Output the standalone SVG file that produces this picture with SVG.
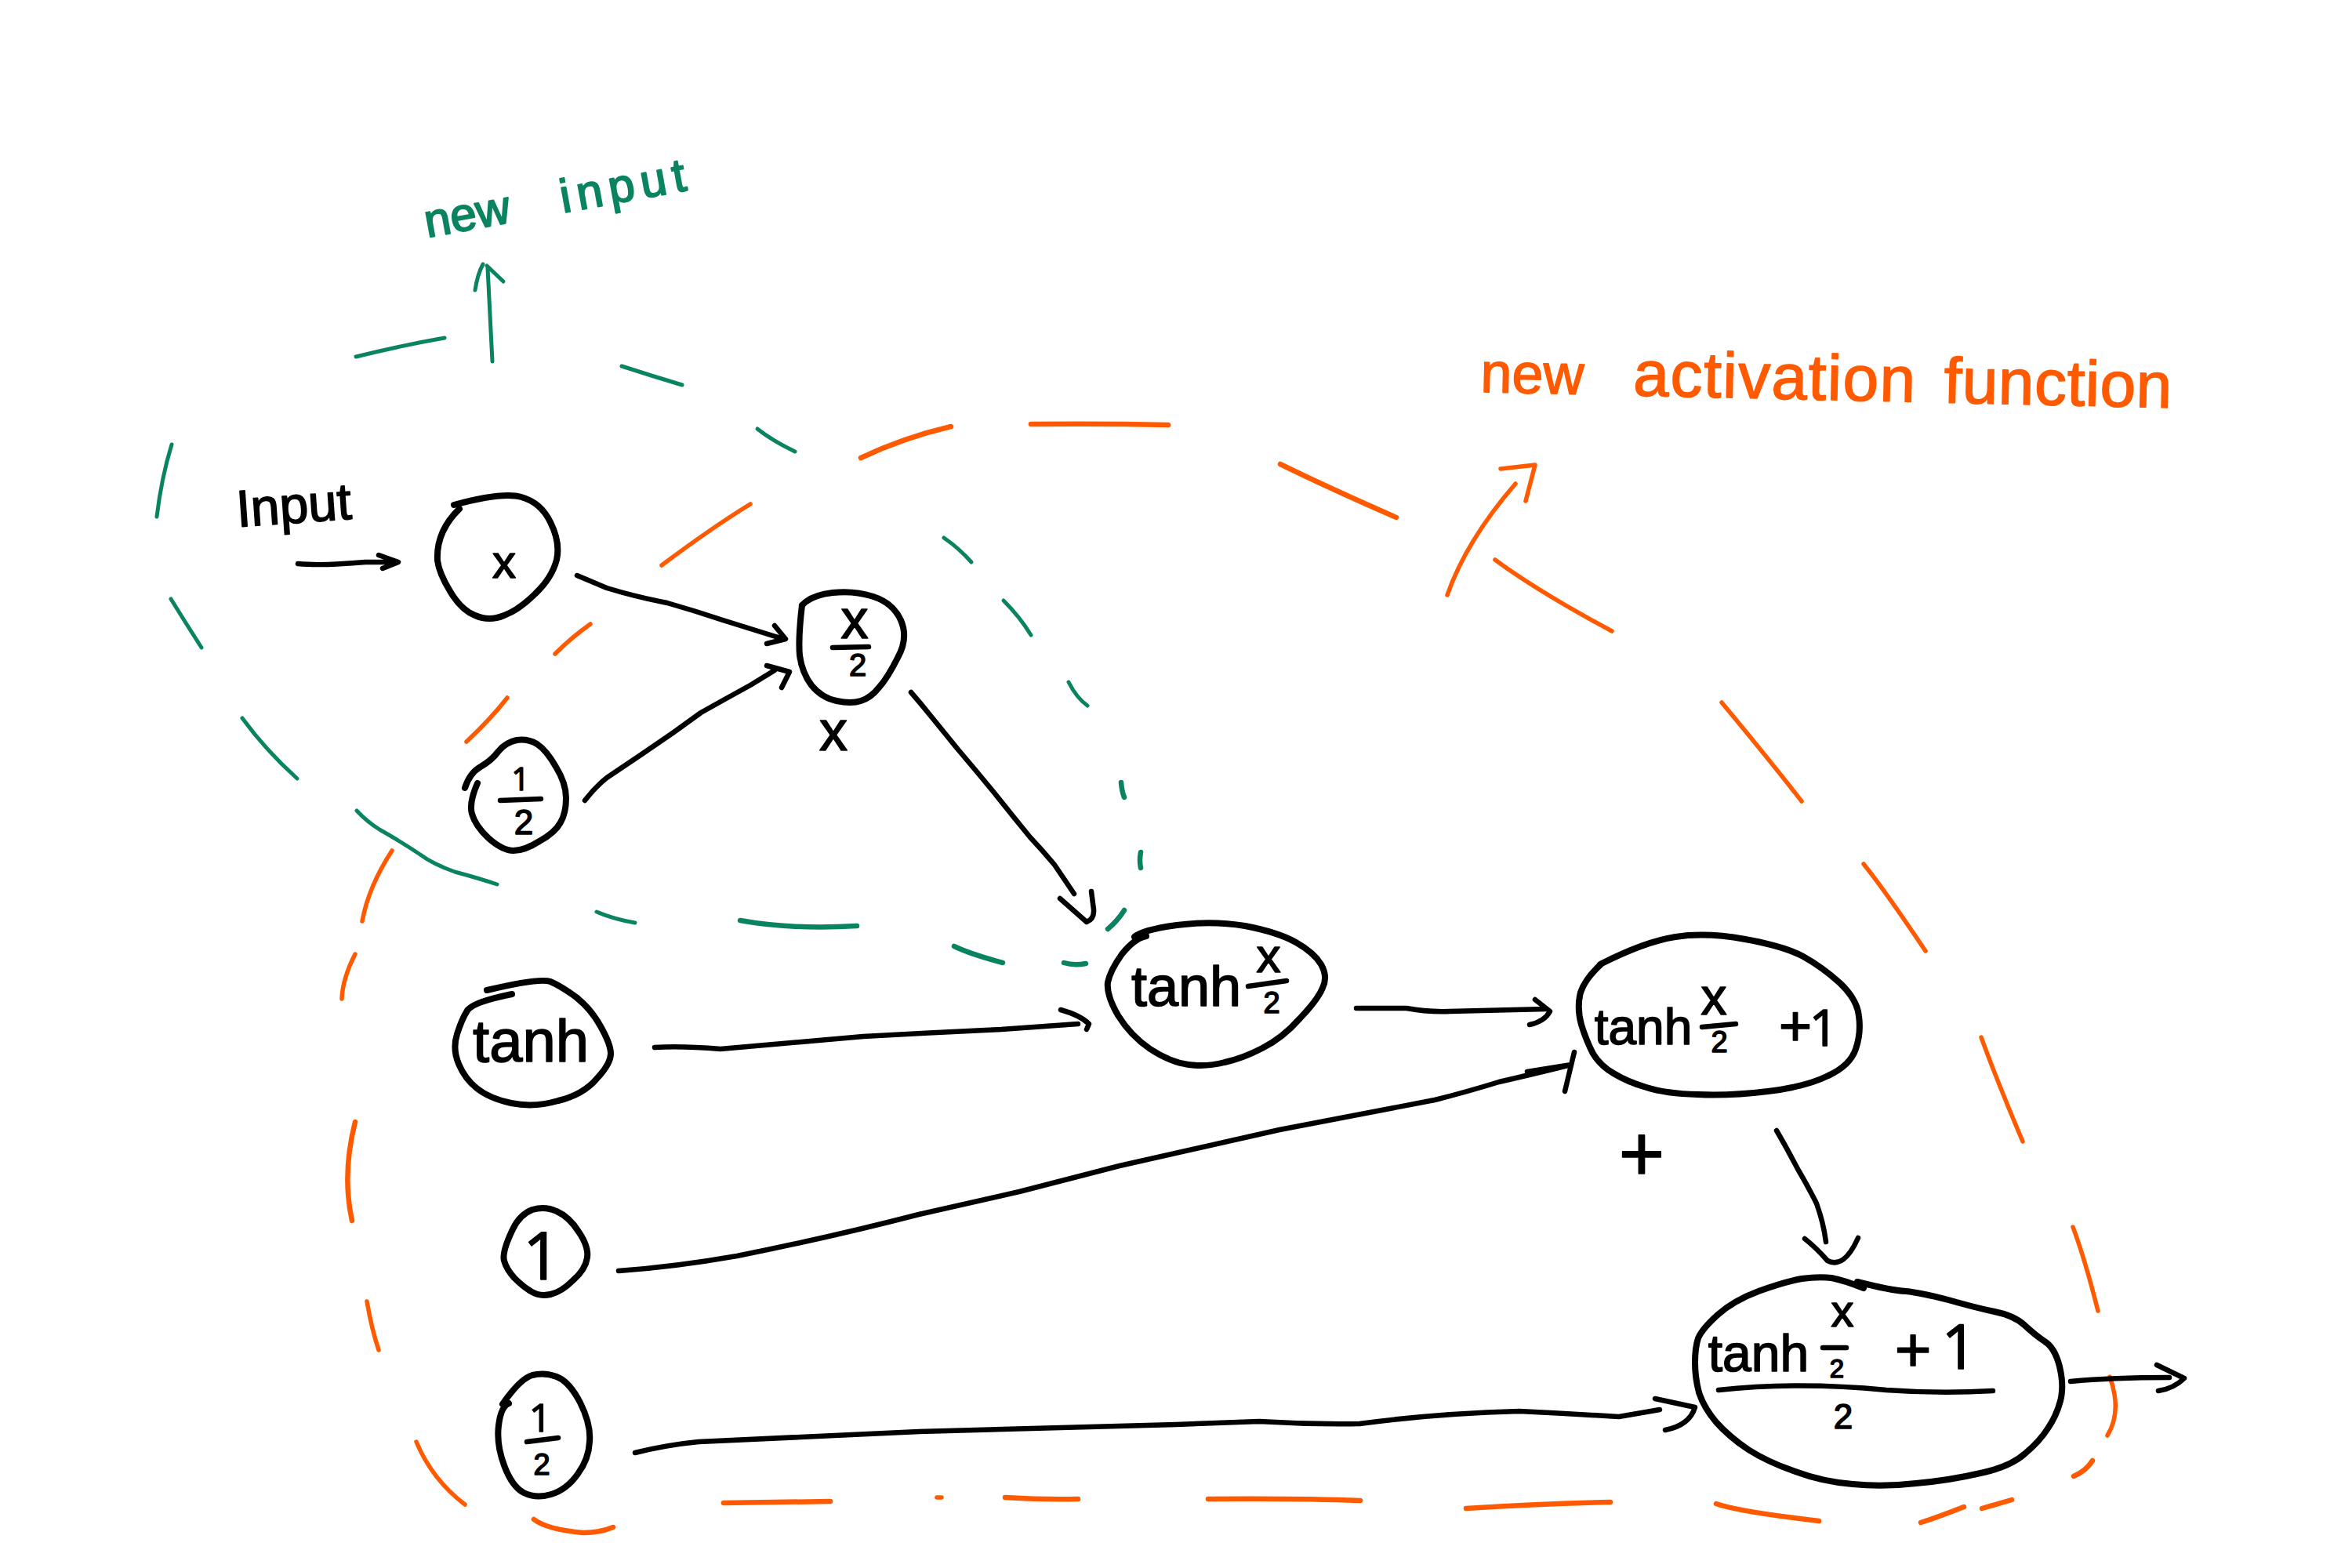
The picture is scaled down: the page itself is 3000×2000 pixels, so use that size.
<svg xmlns="http://www.w3.org/2000/svg" width="3000" height="2000" viewBox="0 0 3000 2000">
<style>
.k{fill:none;stroke:#000;stroke-linecap:round;stroke-linejoin:round}
.n{stroke-width:8}
.c{stroke-width:6.5}
.b{stroke-width:6.5}
.g{fill:none;stroke:#0a8460;stroke-width:5;stroke-linecap:round;stroke-linejoin:round}
.o{fill:none;stroke:#ff5a00;stroke-width:5.5;stroke-linecap:round;stroke-linejoin:round}
text{font-family:"Liberation Sans",Arial,sans-serif;fill:#000;stroke:#000;stroke-width:1.6;stroke-linejoin:round;text-anchor:middle}
.d{font-family:"Open Sans","Liberation Sans",sans-serif}
</style>
<rect width="3000" height="2000" fill="#fff"/>
<g id="boundary-green" class="g">
<path d="M454 455Q515 440 567 431"/>
<path d="M793 467Q830 479 870 491"/>
<path d="M966 547Q985 562 1014 576"/>
<path d="M1204 686Q1223 699 1239 717"/>
<path d="M1280 766Q1301 787 1315 810"/>
<path d="M1363 870Q1373 890 1387 900"/>
<path d="M1430 998Q1431 1010 1434 1017" stroke-width="6.5"/>
<path d="M1455 1087Q1453 1097 1455 1107" stroke-width="6.5"/>
<path d="M1434 1161Q1426 1174 1413 1185" stroke-width="6.5"/>
<path d="M1357 1228Q1370 1232 1385 1229" stroke-width="6.5"/>
<path d="M1217 1207Q1238 1217 1279 1228" stroke-width="6.5"/>
<path d="M944 1174Q1010 1186 1093 1181" stroke-width="6.5"/>
<path d="M761 1163Q782 1172 810 1177"/>
<path d="M455 1034Q468 1048 484 1058Q514 1075 536 1090Q552 1102 580 1112Q610 1120 634 1128"/>
<path d="M309 916Q339 957 379 993"/>
<path d="M218 764Q237 795 257 826"/>
<path d="M219 567Q206 609 200 659"/>
</g>
<g id="boundary-orange" class="o">
<path d="M1098 584Q1153 558 1213 544" stroke-width="6.5"/>
<path d="M1315 541Q1406 540 1490 542" stroke-width="6.5"/>
<path d="M1633 592Q1692 621 1781 660" stroke-width="6.5"/>
<path d="M1907 714Q1961 754 2056 805"/>
<path d="M2196 896Q2256 968 2298 1022"/>
<path d="M2377 1102Q2403 1134 2456 1213"/>
<path d="M2527 1323Q2547 1378 2580 1456"/>
<path d="M2644 1565Q2659 1605 2676 1672"/>
<path d="M2691 1756Q2707 1800 2688 1831"/>
<path d="M2669 1863Q2661 1876 2645 1883" stroke-width="6.5"/>
<path d="M2566 1913L2528 1924" stroke-width="6.5"/>
<path d="M2505 1922Q2472 1935 2450 1942" stroke-width="6.5"/>
<path d="M2189 1918Q2217 1928 2320 1940" stroke-width="6.5"/>
<path d="M1870 1924Q1963 1918 2054 1916" stroke-width="6.5"/>
<path d="M1541 1912Q1657 1911 1735 1914" stroke-width="6.5"/>
<path d="M1282 1910Q1330 1913 1375 1912" stroke-width="6.5"/>
<path d="M1195 1910L1201 1910"/>
<path d="M923 1917L1059 1915" stroke-width="6.5"/>
<path d="M681 1938Q698 1951 744 1955Q765 1955 782 1948" stroke-width="6.5"/>
<path d="M531 1839Q551 1887 593 1919"/>
<path d="M468 1660Q474 1695 483 1722"/>
<path d="M453 1431Q436 1498 449 1557" stroke-width="6.5"/>
<path d="M453 1217Q437 1248 436 1274"/>
<path d="M500 1085Q470 1131 462 1175"/>
<path d="M595 946Q627 916 647 890"/>
<path d="M708 834Q729 813 753 796"/>
<path d="M844 721Q908 673 957 643"/>
</g>
<g id="connectors">
<g class="k c">
<path d="M380 719Q410 722 466 717L504 717M483 708L508 717L488 725"/>
<path d="M736 734Q755 742 774 750Q810 761 851 769Q886 779 922 791L999 815M988 798L1002 815L978 821"/>
<path d="M746 1021Q760 1003 774 992Q816 964 858 935Q876 922 894 909Q926 891 957 874L988 855M978 849L1007 857L997 877"/>
<path d="M1162 883Q1175 898 1187 913Q1205 935 1222 956Q1245 983 1268 1011Q1291 1040 1314 1068Q1330 1085 1345 1103L1370 1140M1352 1146L1386 1176Q1396 1172 1395 1160L1392 1137"/>
<path d="M835 1336Q870 1334 919 1338Q1010 1330 1101 1322Q1190 1317 1277 1313L1375 1306M1353 1288Q1378 1295 1389 1306L1386 1313"/>
<path d="M1730 1286L1794 1286Q1820 1291 1849 1290L1972 1287M1958 1275L1977 1290Q1970 1303 1951 1307"/>
<path d="M789 1621Q860 1616 940 1602Q1060 1578 1172 1549L1300 1520L1428 1487L1632 1441L1830 1403Q1870 1393 1912 1380Q1960 1369 2004 1358M1948 1367L2004 1358M2008 1342L1996 1392"/>
<path d="M2266 1442Q2280 1466 2293 1491Q2306 1513 2317 1535Q2326 1560 2329 1584M2302 1580Q2316 1591 2331 1608Q2352 1619 2370 1579"/>
<path d="M810 1853Q850 1843 891 1839L1172 1826L1500 1817L1606 1813Q1670 1817 1734 1816Q1830 1803 1938 1800Q2000 1803 2065 1807L2117 1798M2111 1784L2162 1795Q2155 1818 2124 1824"/>
<path d="M2641 1762Q2694 1757 2767 1757M2751 1741L2786 1758Q2773 1771 2753 1774"/>
</g>
<path class="g" d="M628 461Q625 400 622 342M606 370Q609 350 616 337M621 339L642 359" stroke-width="6.5"/>
<path class="o" d="M1846 759Q1870 690 1933 617M1914 598L1958 593L1946 639" stroke-width="7"/>
</g>
<g id="node-x">
<path class="k n" d="M579 644Q641 627 665 634Q690 641 702 666Q715 692 710 714Q704 737 683 757Q662 778 643 785Q624 793 606 785Q588 778 574 754Q560 731 558 715Q556 678 586 649"/>
<text x="643" y="737" font-size="60">x</text>
</g>
<g id="node-half-1">
<path class="k n" d="M593 1005Q599 986 613 978Q627 970 636 958Q645 947 659 944Q673 942 685 949Q697 957 709 978Q722 999 722 1018Q722 1037 715 1049Q708 1062 688 1073Q669 1085 655 1085Q641 1085 623 1069Q606 1053 602 1038Q598 1024 609 999"/>
<path class="k b" d="M638 1021L690 1019"/>
<text class="d" x="664" y="1008" font-size="40">1</text>
<text x="668" y="1064" font-size="44">2</text>
</g>
<g id="node-x-over-2">
<path class="k n" d="M1023 772Q1035 759 1062 756Q1090 753 1114 761Q1139 769 1149 791Q1159 814 1145 839Q1132 865 1121 877Q1111 890 1098 894Q1086 898 1067 894Q1048 890 1035 874Q1023 858 1020 836Q1018 814 1023 772"/>
<text x="1090" y="814" font-size="70">x</text>
<path class="k b" d="M1062 826L1108 825"/>
<text x="1094" y="862" font-size="40">2</text>
</g>
<g id="node-tanh">
<path class="k n" d="M621 1263Q688 1247 702 1252Q716 1258 735 1272Q754 1287 766 1309Q779 1332 779 1344Q779 1357 761 1376Q744 1396 712 1404Q681 1413 652 1407Q624 1401 608 1388Q593 1376 585 1357Q577 1338 583 1319Q589 1300 596 1289Q603 1278 653 1268"/>
<text x="677" y="1354" font-size="76">tanh</text>
</g>
<g id="node-1">
<path class="k n" d="M654 1568Q663 1549 679 1543Q695 1538 710 1545Q726 1552 738 1571Q751 1590 749 1604Q747 1619 731 1633Q716 1648 702 1651Q688 1654 677 1647Q667 1641 656 1630Q646 1619 643 1608Q640 1597 654 1568"/>
<text class="d" x="691" y="1632" font-size="84">1</text>
</g>
<g id="node-half-2">
<path class="k n" d="M641 1791Q663 1759 679 1754Q695 1750 710 1756Q726 1762 740 1789Q754 1817 752 1839Q751 1861 737 1880Q723 1900 703 1906Q684 1912 668 1904Q653 1896 643 1869Q633 1842 636 1818Q639 1794 649 1790"/>
<path class="k b" d="M672 1839L712 1834"/>
<text class="d" x="689" y="1826" font-size="50">1</text>
<text x="691" y="1881" font-size="38">2</text>
</g>
<g id="node-tanh-x-over-2">
<path class="k n" d="M1447 1195Q1457 1186 1501 1180Q1546 1174 1588 1181Q1630 1189 1653 1202Q1676 1215 1685 1230Q1694 1246 1687 1260Q1681 1275 1658 1299Q1636 1324 1610 1337Q1585 1350 1562 1355Q1539 1361 1516 1358Q1493 1355 1467 1338Q1442 1321 1426 1295Q1411 1269 1413 1253Q1416 1238 1431 1217Q1447 1197 1462 1194"/>
<text x="1513" y="1283" font-size="72">tanh</text>
<text x="1618" y="1240" font-size="62">x</text>
<path class="k b" d="M1592 1258L1641 1251"/>
<text x="1622" y="1292" font-size="38">2</text>
</g>
<g id="node-tanh-plus-1">
<path class="k n" d="M2041 1230Q2098 1201 2137 1195Q2176 1189 2226 1198Q2276 1207 2300 1220Q2325 1234 2347 1254Q2369 1275 2371 1296Q2374 1318 2367 1338Q2360 1359 2332 1372Q2304 1386 2255 1392Q2206 1398 2165 1396Q2125 1395 2100 1387Q2076 1380 2058 1369Q2041 1359 2032 1344Q2024 1329 2017 1307Q2011 1285 2016 1266Q2022 1248 2043 1229"/>
<text x="2096" y="1332" font-size="64">tanh</text>
<text x="2186" y="1294" font-size="66">x</text>
<path class="k b" d="M2171 1310L2214 1306"/>
<text x="2193" y="1342" font-size="38">2</text>
<text x="2290" y="1333" font-size="72">+</text>
<text class="d" x="2326" y="1334" font-size="64">1</text>
</g>
<g id="node-output">
<path class="k n" d="M2369 1635Q2412 1646 2431 1647Q2450 1649 2485 1658Q2520 1668 2544 1673Q2569 1678 2582 1690Q2596 1703 2608 1711Q2621 1719 2627 1743Q2633 1768 2628 1787Q2623 1806 2612 1822Q2602 1838 2583 1854Q2564 1871 2526 1879Q2488 1888 2444 1892Q2401 1897 2363 1893Q2325 1890 2290 1877Q2255 1865 2230 1849Q2206 1833 2189 1814Q2173 1795 2167 1776Q2162 1757 2162 1738Q2162 1719 2166 1707Q2171 1695 2191 1677Q2211 1659 2243 1647Q2276 1635 2298 1631Q2320 1628 2336 1630Q2352 1633 2377 1643"/>
<text x="2243" y="1749" font-size="66">tanh</text>
<text x="2350" y="1692" font-size="58">x</text>
<path class="k b" d="M2325 1719L2355 1719"/>
<text x="2343" y="1757" font-size="33">2</text>
<text x="2440" y="1749" font-size="80">+</text>
<text class="d" x="2499" y="1746" font-size="79">1</text>
<path class="k b" d="M2192 1773Q2293 1762 2406 1773Q2475 1778 2542 1774"/>
<text x="2351" y="1822" font-size="44">2</text>
</g>
<g id="labels">
<text transform="translate(303 672) rotate(-4)" font-size="66" style="text-anchor:start">Input</text>
<text x="1063" y="957" font-size="72">x</text>
<text x="2094" y="1506" font-size="100">+</text>
<text transform="translate(545 303) rotate(-10.3)" font-size="60" style="text-anchor:start;fill:#0a8460;stroke:#0a8460;stroke-width:2;word-spacing:49px">new <tspan letter-spacing="8">input</tspan></text>
<text transform="translate(1888 500) rotate(1.3)" font-size="82" style="text-anchor:start;fill:#ff5a00;stroke:#ff5a00;stroke-width:1.5;word-spacing:22px"><tspan font-size="72">new</tspan> <tspan dx="18" letter-spacing="1.5">activation</tspan> <tspan dx="-10" letter-spacing="0.5">function</tspan></text>
</g>
</svg>
